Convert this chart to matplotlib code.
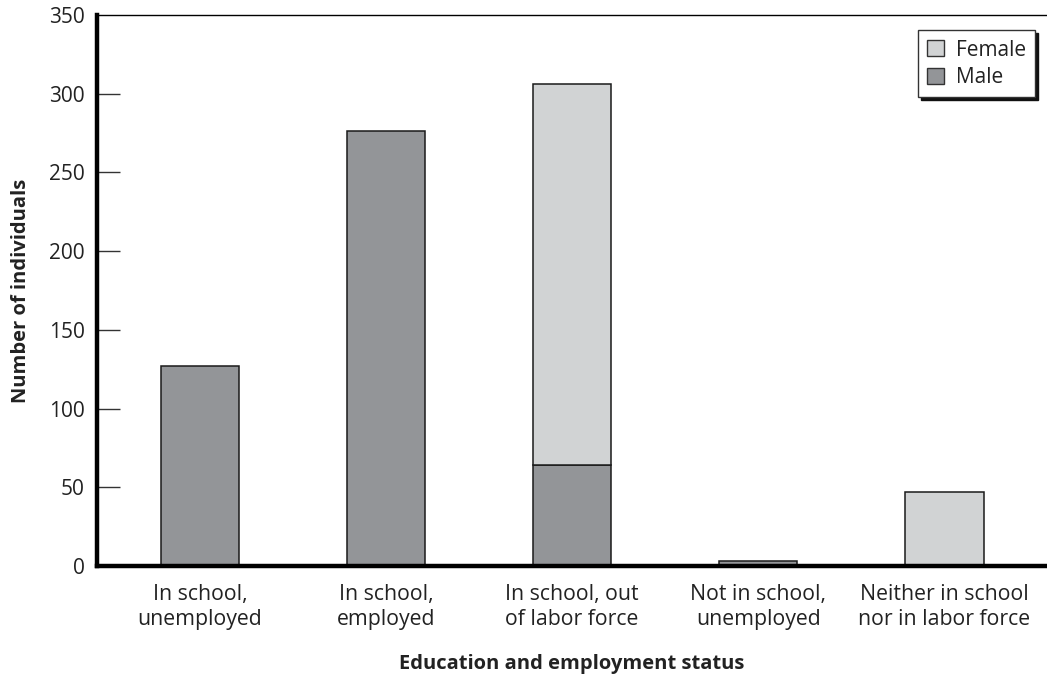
import matplotlib
matplotlib.use("Agg")
import matplotlib.pyplot as plt
from matplotlib.patches import Patch
import numpy as np

categories = ["In school,\nunemployed", "In school,\nemployed", "In school, out\nof labor force",
              "Not in school,\nunemployed", "Neither in school\nnor in labor force"]
male = [127, 276, 64, 3, 0]
female = [0, 0, 242, 0, 47]
yticks = [0, 50, 100, 150, 200, 250, 300, 350]

plt.rcParams['font.family'] = ['Open Sans', 'DejaVu Sans']

fig = plt.figure(figsize=(10.47, 6.77), dpi=100)
ax = fig.add_axes([0.0926, 0.164, 0.9074, 0.814])

x = np.arange(len(categories))
w = 0.42
male_c = '#939598'
female_c = '#d1d3d4'
edge = '#1a1a1a'
ax.bar(x, male, width=w, color=male_c, edgecolor=edge, linewidth=1.1, zorder=2)
fb = ax.bar(x, female, width=w, bottom=male, color=female_c, edgecolor=edge, linewidth=1.1, zorder=2)
for r, v in zip(fb, female):
    if v == 0:
        r.set_visible(False)

ax.set_xlim(-0.553, 4.551)
ax.set_ylim(0, 350)
ax.set_yticks(yticks)
ax.set_xticks(x)
ax.set_xticklabels(categories, fontsize=15.3, color='#222222', linespacing=1.25)
ax.tick_params(axis='x', length=0, pad=13)
ax.tick_params(axis='y', direction='in', length=16.5, width=1.0, pad=9, labelsize=15,
               labelcolor='#222222', color='#333333')
ticks = ax.yaxis.get_major_ticks()
ticks[0].tick1line.set_visible(False)
ticks[-1].tick1line.set_visible(False)

ax.spines['right'].set_visible(False)
ax.spines['top'].set_linewidth(1.0)
ax.spines['left'].set_linewidth(3.2)
ax.spines['bottom'].set_linewidth(3.2)
for s in ax.spines.values():
    s.set_color('black')
ax.spines['left'].set_zorder(3)
ax.spines['bottom'].set_zorder(3)

ax.set_ylabel('Number of individuals', fontsize=14.5, fontweight='bold', color='#222222', labelpad=13)
ax.set_xlabel('Education and employment status', fontsize=14.5, fontweight='bold', color='#222222', labelpad=17)

handles = [Patch(facecolor=female_c, edgecolor='#333333', linewidth=1.0, label='Female'),
           Patch(facecolor=male_c, edgecolor='#333333', linewidth=1.0, label='Male')]
leg = ax.legend(handles=handles, loc='upper right', bbox_to_anchor=(0.9875, 0.972),
                fontsize=15, frameon=True, fancybox=False, shadow={'color': '#111111', 'alpha': 1.0},
                handlelength=0.8, handleheight=0.8, handletextpad=0.55, labelspacing=0.3,
                borderpad=0.45, borderaxespad=0)
leg.get_frame().set_edgecolor('#333333')
leg.get_frame().set_linewidth(1.0)
for t in leg.get_texts():
    t.set_color('#222222')

fig.savefig('out.png', dpi=100)
